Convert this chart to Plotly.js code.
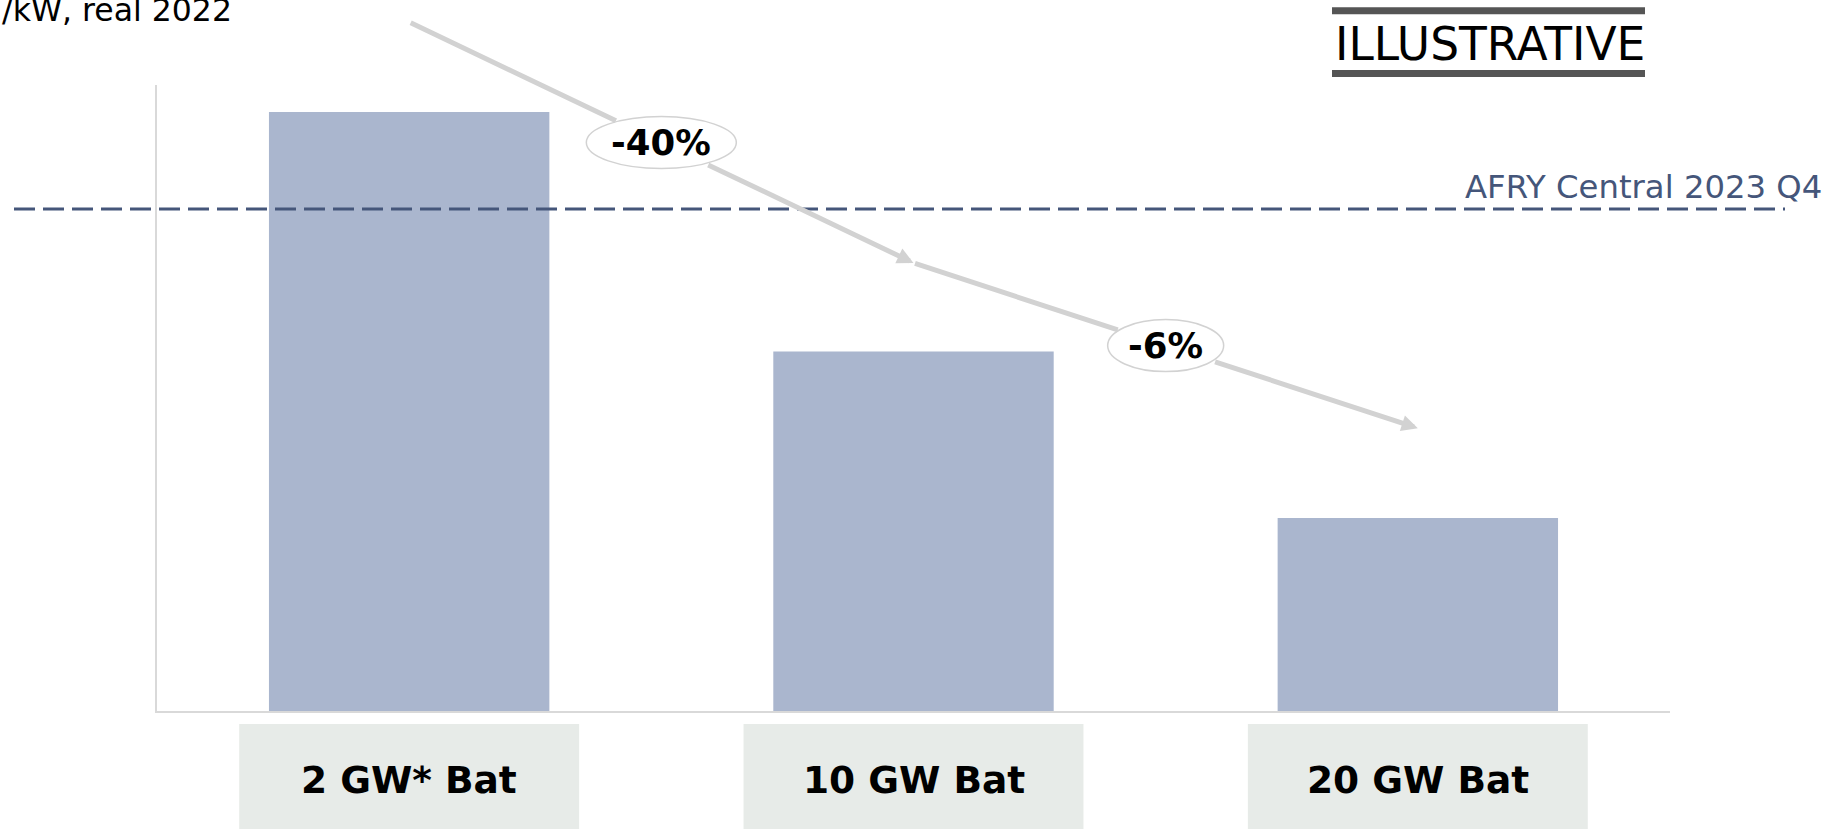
<!DOCTYPE html>
<html>
<head>
<meta charset="utf-8">
<script src="https://cdn.plot.ly/plotly-3.0.1.min.js"></script>
<style>
  html, body { margin: 0; padding: 0; background: #ffffff; }
  #chart { width: 1847px; height: 829px; }
</style>
</head>
<body>
<div id="chart"></div>
<script>
// Battery build-out scenarios and their relative cost level
const categories = ['2 GW* Bat', '10 GW Bat', '20 GW Bat'];
const costValues = [100, 60, 32.2];
// Reference level of the central scenario
const afryCentralLevel = 83.8;
const afryCentralLabel = 'AFRY Central 2023 Q4';
// Trend arrow levels between scenarios and their change labels
const trendLevels = [115, 74.8, 47.2];
const trendLabels = ['-40%', '-6%'];
const unitLabel = '£/kW, real 2022';
const stampLabel = 'ILLUSTRATIVE';

const W = 1847, H = 829;
const M = { l: 157, r: 177, t: 85, b: 118 };
const plotW = W - M.l - M.r, plotH = H - M.t - M.b;
const yMax = 104.5;
// helpers converting page pixels to paper fractions for free-floating text
const px = x => (x - M.l) / plotW;
const py = y => (H - M.b - y) / plotH;

const FONT = 'DejaVu Sans, Verdana, sans-serif';
const ARROW = 'rgb(210,210,210)';
const SLATE = '#45567a';

const shapes = [];
const annotations = [];

// grey label boxes under each category
categories.forEach((c, i) => {
  shapes.push({
    type: 'rect', xref: 'x', yref: 'paper',
    x0: i - 0.337, x1: i + 0.337, y0: py(724), y1: py(900),
    fillcolor: '#e7ebe8', line: { width: 0 }, layer: 'below'
  });
  annotations.push({
    xref: 'x', yref: 'paper', x: c, y: py(779.5),
    text: c, showarrow: false, xanchor: 'center', yanchor: 'middle',
    font: { family: FONT, size: 37.5, color: '#000000', weight: 'bold' }
  });
});

// dashed reference line
shapes.push({
  type: 'line', xref: 'paper', yref: 'y',
  x0: px(14), x1: px(1785), y0: afryCentralLevel, y1: afryCentralLevel,
  line: { color: SLATE, width: 3, dash: '21px,8px' }, layer: 'above'
});
annotations.push({
  xref: 'paper', yref: 'paper', x: px(1463), y: py(187),
  text: afryCentralLabel, showarrow: false, xanchor: 'left', yanchor: 'middle',
  font: { family: FONT, size: 32.3, color: SLATE }
});

// trend arrows, split around the oval change labels
const ovalRx = [75, 58], ovalRy = 26, gaps = [0.09, 0.095];
trendLabels.forEach((lab, i) => {
  const x0 = i, x1 = i + 1, y0 = trendLevels[i], y1 = trendLevels[i + 1];
  const xm = (x0 + x1) / 2, ym = (y0 + y1) / 2;
  const g = gaps[i];
  // tail part, up to the oval
  annotations.push({
    xref: 'x', yref: 'y', axref: 'x', ayref: 'y',
    x: xm - g * (x1 - x0), y: ym - g * (y1 - y0), ax: x0, ay: y0,
    text: '', showarrow: true, arrowhead: 0, arrowwidth: 5, arrowcolor: ARROW,
    standoff: 0, startstandoff: 0
  });
  // head part, from the oval to the next scenario
  annotations.push({
    xref: 'x', yref: 'y', axref: 'x', ayref: 'y',
    x: x1, y: y1, ax: xm + g * (x1 - x0), ay: ym + g * (y1 - y0),
    text: '', showarrow: true, arrowhead: 2, arrowsize: 0.65, arrowwidth: 5, arrowcolor: ARROW,
    standoff: 0, startstandoff: 0
  });
  shapes.push({
    type: 'circle', xref: 'x', yref: 'y',
    xsizemode: 'pixel', ysizemode: 'pixel', xanchor: xm, yanchor: ym,
    x0: -ovalRx[i], x1: ovalRx[i], y0: -ovalRy, y1: ovalRy,
    fillcolor: '#ffffff', line: { color: ARROW, width: 1.5 }, layer: 'above'
  });
  annotations.push({
    xref: 'x', yref: 'y', x: xm, y: ym, text: lab, showarrow: false,
    xanchor: 'center', yanchor: 'middle',
    font: { family: FONT, size: 35.5, color: '#000000', weight: 'bold' }
  });
});

// unit label at the top left
annotations.push({
  xref: 'paper', yref: 'paper', x: px(234), y: py(9.6),
  text: unitLabel, showarrow: false, xanchor: 'right', yanchor: 'middle',
  font: { family: FONT, size: 31.5, color: '#000000' }
});

// stamp with rules above and below
annotations.push({
  xref: 'paper', yref: 'paper', x: px(1489.5), y: py(44.5),
  text: stampLabel, showarrow: false, xanchor: 'center', yanchor: 'middle',
  font: { family: FONT, size: 45.5, color: '#000000' }
});
[10.8, 73.5].forEach(yy => shapes.push({
  type: 'line', xref: 'paper', yref: 'paper',
  x0: px(1332), x1: px(1645), y0: py(yy), y1: py(yy),
  line: { color: '#555555', width: 7 }
}));

const data = [{
  type: 'bar', x: categories, y: costValues, width: 0.556,
  marker: { color: '#aab6ce', line: { width: 0 } },
  hoverinfo: 'skip'
}];

const layout = {
  width: W, height: H,
  margin: M,
  paper_bgcolor: '#ffffff', plot_bgcolor: '#ffffff',
  showlegend: false,
  xaxis: {
    type: 'category', range: [-0.5, 2.5], fixedrange: true,
    showline: true, linecolor: '#d9d9d9', linewidth: 2,
    showgrid: false, zeroline: false, showticklabels: false, ticks: ''
  },
  yaxis: {
    range: [0, yMax], fixedrange: true,
    showline: true, linecolor: '#d9d9d9', linewidth: 2,
    showgrid: false, zeroline: false, showticklabels: false, ticks: ''
  },
  shapes: shapes,
  annotations: annotations
};

Plotly.newPlot('chart', data, layout, { displayModeBar: false, staticPlot: true });
</script>
</body>
</html>
